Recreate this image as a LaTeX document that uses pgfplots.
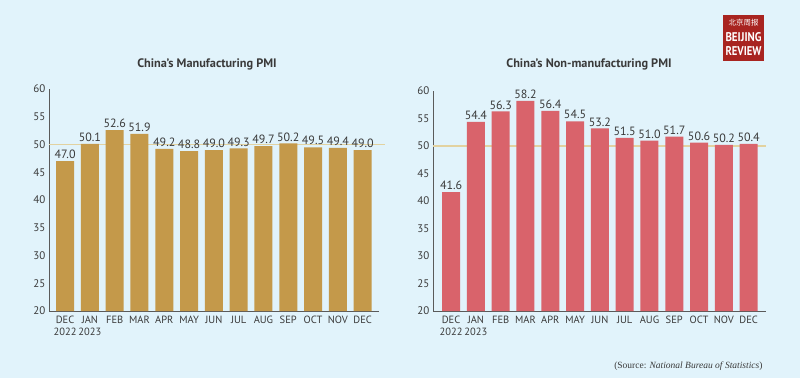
\documentclass[border=0pt]{standalone}
\usepackage{pgfplots}
\pgfplotsset{compat=1.18}
\usepackage{graphicx}
\usepackage{fontspec}
\setmainfont{PT Sans}
\newfontfamily\serif{Liberation Serif}
\newfontfamily\cjk{Noto Sans CJK SC}
\definecolor{bg}{HTML}{E1F3FB}
\definecolor{gold}{HTML}{C4994A}
\definecolor{rose}{HTML}{D9636B}
\definecolor{refline}{HTML}{E2D2A0}
\definecolor{axisc}{HTML}{5A5A5A}
\definecolor{txt}{HTML}{3A3A3A}
\definecolor{logored}{HTML}{A82420}
\pgfplotsset{pmi/.style={
  scale only axis,
  axis x line*=bottom, axis y line*=left,
  axis line style={-, draw=axisc, line width=0.9pt},
  ymin=20, ymax=60, ytick={20,25,...,60},
  xtick={0,...,12},
  xticklabels={{DEC\\2022},{JAN\\2023},FEB,MAR,APR,MAY,JUN,JUL,AUG,SEP,OCT,NOV,DEC},
  xticklabel style={align=center, font=\fontsize{10.5}{12}\selectfont, text=txt, inner sep=1pt, yshift=-4pt},
  yticklabel style={font=\fontsize{11}{12}\selectfont, text=txt},
  /pgf/number format/assume math mode=true,
  major tick length=0pt,
  clip=false,
}}
\begin{document}
\begin{tikzpicture}[x=1pt,y=1pt]
\fill[bg] (0,0) rectangle (800,378);
% titles
\node[font=\bfseries\fontsize{12.3}{13}\selectfont, text=txt] at (207,314) {China’s Manufacturing PMI};
\node[font=\bfseries\fontsize{12.3}{13}\selectfont, text=txt] at (589,314) {China’s Non-manufacturing PMI};
% left chart
\begin{axis}[pmi, at={(49pt,67pt)}, anchor=south west, width=330pt, height=222pt,
  xmin=-0.65, xmax=12.66]
\addplot[refline, line width=1.2pt, no marks] coordinates {(-0.65,50) (12.9,50)};
\addplot[ybar, bar width=18pt, fill=gold, draw=none,
  nodes near coords={\pgfmathprintnumber[fixed,fixed zerofill,precision=1,assume math mode=true]{\pgfplotspointmeta}},
  every node near coord/.append style={font=\fontsize{12}{13}\selectfont, text=txt, inner sep=2pt}]
coordinates {(0,47.0) (1,50.1) (2,52.6) (3,51.9) (4,49.2) (5,48.8) (6,49.0) (7,49.3) (8,49.7) (9,50.2) (10,49.5) (11,49.4) (12,49.0)};
\end{axis}
% right chart
\begin{axis}[pmi, at={(433pt,67pt)}, anchor=south west, width=333pt, height=220pt,
  xmin=-0.73, xmax=12.7]
\addplot[refline, line width=1.2pt, no marks] coordinates {(-0.73,50) (12.7,50)};
\addplot[ybar, bar width=18pt, fill=rose, draw=none,
  nodes near coords={\pgfmathprintnumber[fixed,fixed zerofill,precision=1,assume math mode=true]{\pgfplotspointmeta}},
  every node near coord/.append style={font=\fontsize{12}{13}\selectfont, text=txt, inner sep=2pt}]
coordinates {(0,41.6) (1,54.4) (2,56.3) (3,58.2) (4,56.4) (5,54.5) (6,53.2) (7,51.5) (8,51.0) (9,51.7) (10,50.6) (11,50.2) (12,50.4)};
\end{axis}
% source
\node[anchor=east, font=\serif\fontsize{9.5}{10}\selectfont, text=txt] at (766,12) {(Source: \textit{National Bureau of Statistics})};
% logo
\fill[logored] (723,317) rectangle (764,363);
\node[text=white, font=\cjk\fontsize{7.5}{8}\selectfont] at (743.5,355) {北京周报};
\node[text=white, font=\bfseries] at (743.5,341) {\resizebox{36pt}{9pt}{BEIJING}};
\node[text=white, font=\bfseries] at (743.5,327) {\resizebox{36pt}{9pt}{REVIEW}};
\end{tikzpicture}
\end{document}
